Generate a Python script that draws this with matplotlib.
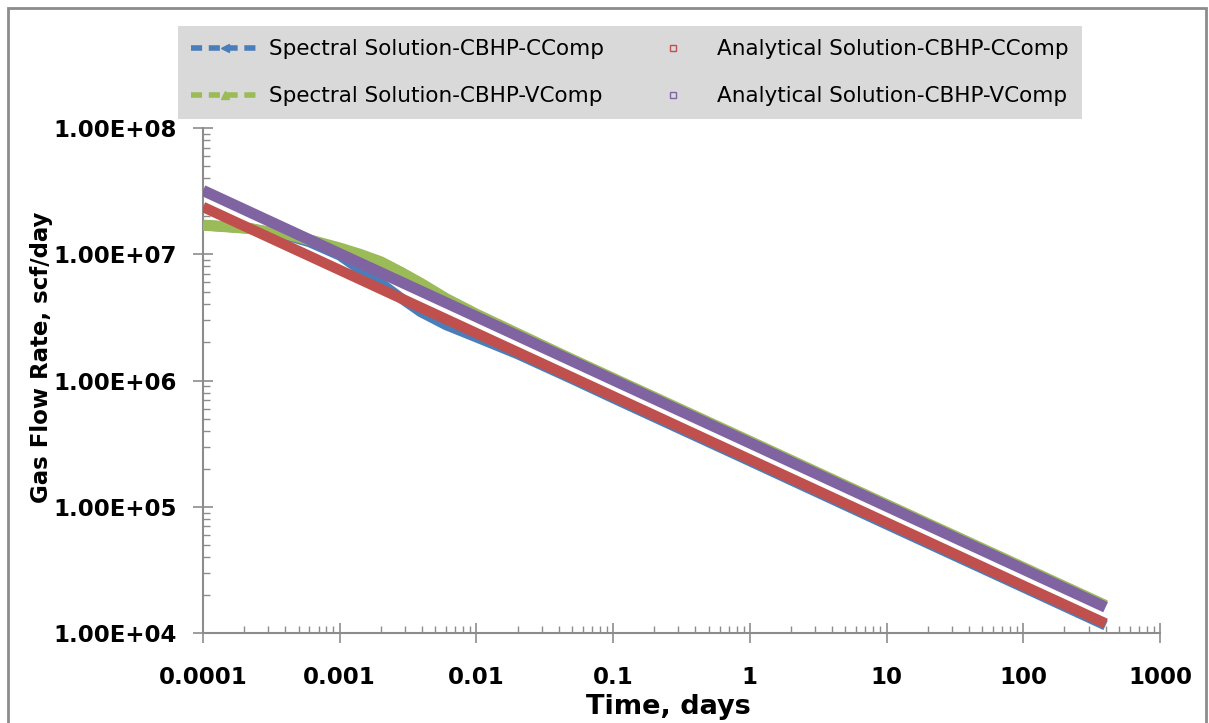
import matplotlib
matplotlib.use("Agg")
import matplotlib.pyplot as plt
from matplotlib.lines import Line2D
from matplotlib.patches import Rectangle
from matplotlib.legend_handler import HandlerLine2D
from matplotlib.ticker import FixedLocator, FixedFormatter, LogLocator, NullFormatter

# ---- data (time in days, rate in scf/day) ----
t_analytic = [1e-4, 1e-3, 1e-2, 1e-1, 1, 10, 100, 400]
q_analytic_ccomp = [2.37e7, 7.5e6, 2.37e6, 7.5e5, 2.37e5, 7.5e4, 2.37e4, 1.19e4]
q_analytic_vcomp = [3.2e7, 1.01e7, 3.2e6, 1.01e6, 3.2e5, 1.01e5, 3.2e4, 1.6e4]

t_spectral = [1e-4, 1.5e-4, 2.2e-4, 3e-4, 4e-4, 6e-4, 1e-3, 1.4e-3, 2e-3, 2.8e-3,
              3.9e-3, 6e-3, 1e-2, 2e-2, 5e-2, 1e-1, 1, 10, 100, 400]
q_spectral_ccomp = [1.7e7, 1.65e7, 1.6e7, 1.5e7, 1.42e7, 1.25e7, 9.8e6, 7.6e6, 5.9e6, 4.5e6,
                    3.5e6, 2.75e6, 2.2e6, 1.62e6, 1.03e6, 7.25e5, 2.3e5, 7.25e4, 2.3e4, 1.15e4]
q_spectral_vcomp = [1.7e7, 1.65e7, 1.6e7, 1.5e7, 1.45e7, 1.3e7, 1.12e7, 1.0e7, 8.7e6, 7.2e6,
                    5.9e6, 4.45e6, 3.35e6, 2.35e6, 1.47e6, 1.04e6, 3.3e5, 1.04e5, 3.3e4, 1.65e4]

x_ticks = [1e-4, 1e-3, 1e-2, 1e-1, 1, 10, 100, 1000]
x_ticklabels = ["0.0001", "0.001", "0.01", "0.1", "1", "10", "100", "1000"]
y_ticks = [1e4, 1e5, 1e6, 1e7, 1e8]
y_ticklabels = ["1.00E+04", "1.00E+05", "1.00E+06", "1.00E+07", "1.00E+08"]

label_spec_c = "Spectral Solution-CBHP-CComp"
label_anal_c = "Analytical Solution-CBHP-CComp"
label_spec_v = "Spectral Solution-CBHP-VComp"
label_anal_v = "Analytical Solution-CBHP-VComp"

BLUE = "#4a7ebb"
RED = "#c0504d"
GREEN = "#9bbb59"
PURPLE = "#8064a2"
GRAY = "#8c8c8c"

plt.rcParams["font.family"] = ["DejaVu Sans"]

W, H = 1209, 723
fig = plt.figure(figsize=(W / 100, H / 100), dpi=100)
ax = fig.add_axes([203 / W, 1 - 633 / H, (1160 - 203) / W, (633 - 128) / H])

ax.plot(t_spectral, q_spectral_ccomp, color=BLUE, lw=7.5, solid_capstyle="butt",
        solid_joinstyle="round", zorder=2)
ax.plot(t_spectral, q_spectral_vcomp, color=GREEN, lw=8, solid_capstyle="butt",
        solid_joinstyle="round", zorder=3)
ax.plot(t_analytic, q_analytic_ccomp, color=RED, lw=7.5, solid_capstyle="butt", zorder=4)
ax.plot(t_analytic, q_analytic_vcomp, color=PURPLE, lw=8, solid_capstyle="butt", zorder=5)

ax.set_xscale("log")
ax.set_yscale("log")
ax.set_xlim(1e-4, 1e3)
ax.set_ylim(1e4, 1e8)

ax.xaxis.set_major_locator(FixedLocator(x_ticks))
ax.xaxis.set_major_formatter(FixedFormatter(x_ticklabels))
ax.yaxis.set_major_locator(FixedLocator(y_ticks))
ax.yaxis.set_major_formatter(FixedFormatter(y_ticklabels))
ax.xaxis.set_minor_locator(LogLocator(base=10, subs=range(2, 10), numticks=50))
ax.yaxis.set_minor_locator(LogLocator(base=10, subs=range(2, 10), numticks=50))
ax.xaxis.set_minor_formatter(NullFormatter())
ax.yaxis.set_minor_formatter(NullFormatter())

for s in ["top", "right"]:
    ax.spines[s].set_visible(False)
for s in ["left", "bottom"]:
    ax.spines[s].set_color(GRAY)
    ax.spines[s].set_linewidth(1.5)

ax.tick_params(axis="both", which="major", direction="inout", length=14, width=1.2,
               color=GRAY, labelsize=16.5)
ax.tick_params(axis="x", which="major", pad=17)
ax.tick_params(axis="y", which="major", pad=12)
ax.tick_params(axis="both", which="minor", direction="in", length=5, width=1.0, color=GRAY)
for lab in ax.get_xticklabels() + ax.get_yticklabels():
    lab.set_fontweight("bold")

ax.set_xlabel("Time, days", fontsize=19.5, fontweight="bold")
ax.set_ylabel("Gas Flow Rate, scf/day", fontsize=16.5, fontweight="bold")
ax.xaxis.set_label_coords(0.486, -0.121)
ax.yaxis.set_label_coords(-0.157, 0.545)


class RightMarkerHandler(HandlerLine2D):
    """Place the single legend marker toward the right of the handle box."""
    def get_xdata(self, legend, xdescent, ydescent, width, height, fontsize):
        xdata = [-xdescent, -xdescent + width]
        return xdata, [-xdescent + 0.8 * width]


# legend (column-major: spectral in first column, analytical in second)
h_spec_c = Line2D([], [], color=BLUE, lw=4, ls=(0, (2.0, 1.2)), marker="<", ms=6,
                  mfc=BLUE, mec=BLUE)
h_spec_v = Line2D([], [], color=GREEN, lw=4, ls=(0, (2.0, 1.2)), marker="^", ms=6,
                  mfc=GREEN, mec=GREEN)
h_anal_c = Line2D([], [], color=RED, lw=0, marker="s", ms=4, mfc="none", mec=RED, mew=1)
h_anal_v = Line2D([], [], color=PURPLE, lw=0, marker="s", ms=4, mfc="none", mec=PURPLE, mew=1)

leg = fig.legend([h_spec_c, h_spec_v, h_anal_c, h_anal_v],
                 [label_spec_c, label_spec_v, label_anal_c, label_anal_v],
                 ncol=2, loc="lower left",
                 bbox_to_anchor=(178 / W, 1 - 119 / H, (1082 - 178) / W, (119 - 26) / H),
                 mode="expand", frameon=True, fancybox=False, facecolor="#d9d9d9",
                 edgecolor="none", framealpha=1, fontsize=15.5, handlelength=3.2,
                 handletextpad=0.45, borderaxespad=0, borderpad=0.6, labelspacing=1.25,
                 handler_map={h_anal_c: RightMarkerHandler(), h_anal_v: RightMarkerHandler()})

# chart area border
fig.patches.append(Rectangle((8 / W, -0.05), (1206 - 8) / W, 1.05 - 8 / H,
                             transform=fig.transFigure, fill=False, edgecolor=GRAY, lw=2))

fig.savefig("out.png", dpi=100)
